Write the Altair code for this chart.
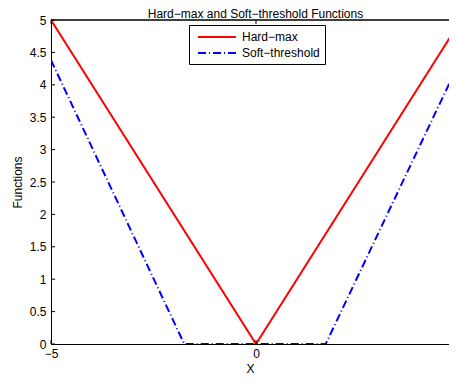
import altair as alt
import pandas as pd

# ---- data ----
title_text = "Hard−max and Soft−threshold Functions"
series_names = ["Hard−max", "Soft−threshold"]
hard_x = [-5, 0, 5]
hard_y = [5, 0, 5]
soft_x = [-5, -1.75, 1.7, 5]
soft_y = [4.38, 0, 0, 4.4]
x_ticks = [-5, 0]
y_ticks = [0, 0.5, 1, 1.5, 2, 2.5, 3, 3.5, 4, 4.5, 5]

rows = []
for i, (a, b) in enumerate(zip(hard_x, hard_y)):
    rows.append({"x": a, "y": b, "series": series_names[0], "ord": i})
for i, (a, b) in enumerate(zip(soft_x, soft_y)):
    rows.append({"x": a, "y": b, "series": series_names[1], "ord": i})
df = pd.DataFrame(rows)

W, H = 398, 324
X_MAX = -5 + W / 41.0  # reference is cropped on the right; keep its 41 px per unit
FONT = "Liberation Sans"

xs = alt.Scale(domain=[-5, X_MAX], nice=False, zero=False)
ys = alt.Scale(domain=[0, 5], nice=False, zero=False)

leg = dict(title=None, orient="none", legendX=138, legendY=5)

x_axis = alt.Axis(values=x_ticks, title="X", ticks=False, grid=False,
                  labelPadding=4, titlePadding=4, format="~g", labelFlush=False)
y_axis = alt.Axis(values=y_ticks, title="Functions", ticks=False, grid=False,
                  labelPadding=5, titlePadding=5, format="~g",
                  labelOverlap=False, labelFlush=False)

lines = alt.Chart(df).mark_line(strokeWidth=2, clip=True).encode(
    x=alt.X("x:Q", scale=xs, axis=x_axis),
    y=alt.Y("y:Q", scale=ys, axis=y_axis),
    color=alt.Color("series:N",
                    scale=alt.Scale(domain=series_names, range=["#ff0000", "#0000ff"]),
                    legend=alt.Legend(**leg)),
    strokeDash=alt.StrokeDash("series:N",
                              scale=alt.Scale(domain=series_names, range=[[1, 0], [8, 3, 1, 3]]),
                              legend=alt.Legend(**leg)),
    order="ord:Q",
)

ytick_df = pd.DataFrame({"y": y_ticks})
xtick_df = pd.DataFrame({"x": x_ticks})

left_ticks = alt.Chart(ytick_df).mark_rule(color="black", strokeWidth=1).encode(
    y=alt.Y("y:Q", scale=ys, axis=y_axis), x=alt.value(0), x2=alt.value(4))
bottom_ticks = alt.Chart(xtick_df).mark_rule(color="black", strokeWidth=1).encode(
    x=alt.X("x:Q", scale=xs, axis=x_axis), y=alt.value(H - 4), y2=alt.value(H))
top_ticks = alt.Chart(xtick_df).mark_rule(color="black", strokeWidth=1).encode(
    x=alt.X("x:Q", scale=xs, axis=x_axis), y=alt.value(0), y2=alt.value(4))
top_border = alt.Chart(xtick_df).mark_rule(color="black", strokeWidth=1).encode(
    x=alt.value(0), x2=alt.value(W), y=alt.value(0))
title_mark = alt.Chart(pd.DataFrame({"t": [title_text]})).mark_text(
    font=FONT, fontSize=12, color="black", align="center", baseline="alphabetic"
).encode(text="t:N", x=alt.value(204.5), y=alt.value(-2))

chart = alt.layer(lines, left_ticks, bottom_ticks, top_ticks, top_border, title_mark).properties(
    width=W, height=H,
    autosize=alt.AutoSizeParams(type="none"),
    padding={"left": 43, "top": 12, "right": 0, "bottom": 31},
).configure_view(
    stroke=None
).configure_axis(
    domainColor="black", domainWidth=1, labelFont=FONT, titleFont=FONT,
    labelFontSize=12, titleFontSize=12, labelColor="black", titleColor="black",
    titleFontWeight="normal",
).configure_legend(
    strokeColor="black", fillColor="white", padding=5,
    symbolType="M-0.5,0H5.83", symbolSize=144, symbolStrokeWidth=2,
    labelFont=FONT, labelFontSize=12, labelColor="black", labelOffset=34,
    rowPadding=3, cornerRadius=0,
)

chart.save("out.html", embed_options={"renderer": "svg", "actions": False})
